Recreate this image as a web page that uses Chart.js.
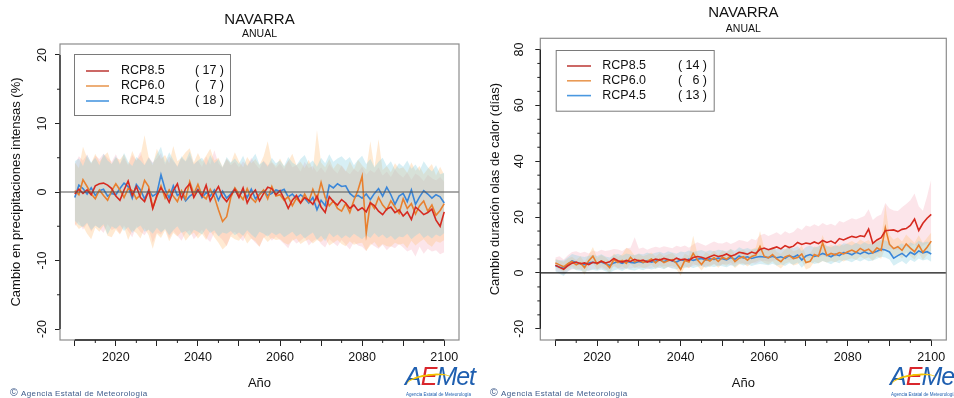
<!DOCTYPE html>
<html>
<head>
<meta charset="utf-8">
<script src="https://cdn.jsdelivr.net/npm/chart.js@4.4.1/dist/chart.umd.min.js"></script>
<style>
html,body{margin:0;padding:0;background:#fff;}
body{width:954px;height:398px;position:relative;overflow:hidden;font-family:'Liberation Sans',Arial,Helvetica,sans-serif;}
.wrap{position:absolute;top:0;width:477px;height:398px;}
canvas{display:block;}
.foot{position:absolute;top:386px;font-size:8px;color:#3d5a8a;letter-spacing:0.35px;white-space:nowrap;line-height:12px;}
.foot .c{font-size:10.5px;margin-right:3px;}
.logo{position:absolute;top:362px;width:80px;height:36px;overflow:visible;white-space:nowrap;}
.logo .w{position:absolute;left:0;top:0;font-size:25px;font-style:italic;letter-spacing:-1px;line-height:28px;}
.logo .b{color:#1f5fb0;}
.logo .r{color:#d9262c;}
.logo .arc{position:absolute;left:2px;top:12px;width:44px;height:12px;border-top:2.5px solid #f3c300;border-radius:50%;transform:rotate(-8deg);}
.logo .t{position:absolute;left:1px;top:30px;font-size:4.5px;color:#1f5fb0;}
</style>
</head>
<body>
<div class="wrap" style="left:0"><canvas id="c1" width="477" height="398"></canvas></div>
<div class="wrap" style="left:477px"><canvas id="c2" width="477" height="398"></canvas></div>
<div class="foot" style="left:10px"><span class="c">©</span>Agencia Estatal de Meteorología</div>
<div class="foot" style="left:490px"><span class="c">©</span>Agencia Estatal de Meteorología</div>
<div class="logo" style="left:405px"><div class="w"><span class="b">A</span><span class="r">E</span><span class="b">Met</span></div><div class="arc"></div><div class="t">Agencia Estatal de Meteorología</div></div>
<div class="logo" style="left:890px"><div class="w"><span class="b">A</span><span class="r">E</span><span class="b">Met</span></div><div class="arc"></div><div class="t">Agencia Estatal de Meteorología</div></div>
<script>
// ---------------- DATA ----------------
const years = [2010,2011,2012,2013,2014,2015,2016,2017,2018,2019,
2020,2021,2022,2023,2024,2025,2026,2027,2028,2029,
2030,2031,2032,2033,2034,2035,2036,2037,2038,2039,
2040,2041,2042,2043,2044,2045,2046,2047,2048,2049,
2050,2051,2052,2053,2054,2055,2056,2057,2058,2059,
2060,2061,2062,2063,2064,2065,2066,2067,2068,2069,
2070,2071,2072,2073,2074,2075,2076,2077,2078,2079,
2080,2081,2082,2083,2084,2085,2086,2087,2088,2089,
2090,2091,2092,2093,2094,2095,2096,2097,2098,2099,
2100];

const seriesNames = ['RCP8.5','RCP6.0','RCP4.5'];
const precipCounts = [17, 7, 18];
const heatCounts = [14, 6, 13];

const xMajorTicks = [2010,2020,2030,2040,2050,2060,2070,2080,2090,2100];
const xMinorTicks = [2015,2025,2035,2045,2055,2065,2075,2085,2095];
const xTickLabels = [2020,2040,2060,2080,2100];
const precipYTicks = [-20,-10,0,10,20];
const precipYMinor = [-15,-5,5,15];
const heatYTicks = [-20,0,20,40,60,80];
const heatYMinor = [-15,-10,-5,5,10,15,25,30,35,45,50,55,65,70,75];

// Left chart: cambio en precipitaciones intensas (%)
const precipRcp85 = [
-0.3,0.4,-0.2,0.3,-0.4,0.9,1.2,1.3,1.0,0.5,
-0.6,-1.2,0.3,1.6,-0.5,0.8,-0.8,-1.4,0.2,-2.4,
-0.5,0.6,-0.3,-1.5,0.2,1.2,-1.0,0.5,1.2,-0.8,
0.3,-0.6,1.0,-1.3,-0.2,0.8,-0.7,-1.4,-0.5,0.4,
-0.8,0.6,-1.6,-0.4,0.3,-1.3,-0.2,0.7,0.5,-0.4,
0.2,-1.0,-2.4,-1.2,-0.5,-1.6,-0.8,-1.2,-1.8,-0.6,
-2.2,-3.0,-0.7,-1.4,-1.9,-1.1,-1.6,-2.4,-1.9,-2.7,
-2.3,-2.9,-1.6,-2.0,-2.8,-3.3,-2.5,-2.2,-3.0,-2.6,
-3.5,-2.9,-4.0,-2.2,-2.7,-3.3,-3.0,-2.5,-4.1,-5.0,
-2.9];
const precipRcp85Hi = [
4.0,5.2,4.6,5.5,4.1,5.3,4.8,5.6,5.0,4.4,
5.5,4.2,5.0,3.9,5.4,4.6,5.9,4.0,5.1,4.3,
4.9,5.7,4.0,5.2,4.5,3.8,5.0,4.4,5.3,4.1,
4.6,3.7,5.2,4.0,6.1,4.2,3.5,4.8,3.9,4.4,
3.6,4.5,3.8,5.0,4.1,3.4,4.6,3.9,4.3,3.5,
4.2,3.3,4.7,3.6,3.9,3.0,4.4,3.5,3.8,2.9,
3.6,2.8,4.1,3.3,2.7,3.9,3.1,2.6,3.4,2.9,
3.7,2.5,3.2,2.8,3.6,2.4,3.0,2.2,3.3,2.6,
2.1,2.9,1.8,2.7,2.3,1.6,2.5,2.0,1.7,2.2,
1.5];
const precipRcp85Lo = [
-5.0,-4.3,-5.5,-4.6,-5.8,-4.9,-5.3,-6.0,-4.7,-5.6,
-5.2,-6.1,-4.9,-5.7,-6.6,-5.0,-5.8,-6.3,-5.4,-7.4,
-5.9,-6.2,-5.3,-6.8,-5.7,-6.4,-7.1,-6.0,-5.6,-6.9,
-6.2,-5.5,-6.7,-7.3,-5.9,-6.4,-7.0,-7.9,-6.3,-5.8,
-6.6,-7.2,-6.0,-6.8,-7.4,-8.0,-6.7,-6.2,-7.1,-6.5,
-7.0,-7.6,-8.2,-6.9,-7.5,-7.1,-6.6,-7.8,-7.2,-6.8,
-7.6,-8.1,-6.9,-7.4,-7.9,-7.0,-7.7,-8.4,-7.3,-7.8,
-8.0,-8.6,-7.5,-7.9,-8.3,-7.7,-8.5,-7.9,-8.2,-7.6,
-8.1,-8.7,-8.4,-9.4,-8.0,-9.0,-8.3,-8.7,-8.5,-9.1,
-8.8];
const precipRcp60 = [
0.2,-0.4,1.8,0.8,-0.3,-1.0,0.3,-0.5,-1.2,0.2,
1.2,0.3,-0.8,0.5,0.2,-1.0,-0.4,1.7,0.8,-2.3,
-0.7,0.9,-0.9,0.3,-0.6,-1.4,0.2,-1.0,1.5,-0.3,
1.1,-0.5,-1.0,0.4,-0.7,-2.6,-4.3,-3.6,-0.8,0.6,
-0.3,-1.1,0.5,-0.9,-1.5,-0.4,0.3,-1.0,0.8,-0.6,
-0.4,-1.2,-0.7,-2.0,-0.9,-1.6,-0.3,-1.4,0.4,-1.1,
1.4,-0.8,-2.0,-1.3,-2.4,-2.8,-1.7,-3.0,-1.2,0.3,
2.3,-6.0,-1.5,-2.4,-0.8,-1.9,-2.6,-1.3,-2.2,-3.1,
-1.0,-2.4,-1.7,-3.2,-2.0,-1.3,-2.8,-1.9,-3.4,-2.7,
-1.7];
const precipRcp60Hi = [
4.3,3.5,6.6,5.0,4.2,5.6,4.4,5.2,5.8,4.1,
5.0,4.7,5.5,4.0,6.0,4.6,5.3,8.3,5.1,3.9,
6.3,4.8,5.4,4.2,6.7,4.5,5.0,5.8,6.4,4.3,
5.7,4.4,5.3,6.3,4.6,5.0,3.7,4.9,4.2,5.8,
4.5,3.6,5.1,4.2,4.8,3.9,5.2,7.4,4.4,3.8,
4.9,3.7,4.5,5.6,3.9,4.4,3.5,4.7,3.2,9.0,
4.3,3.6,4.8,3.4,4.2,3.8,3.0,4.5,3.3,4.7,
3.9,3.3,7.4,3.5,7.7,3.2,3.8,2.9,4.2,3.4,
3.6,2.8,4.3,3.1,3.8,2.6,3.4,4.1,2.4,3.7,
2.5];
const precipRcp60Lo = [
-4.6,-5.4,-5.0,-6.1,-6.9,-5.2,-5.8,-4.9,-6.4,-6.6,
-5.5,-6.2,-5.1,-7.0,-5.6,-6.0,-6.8,-5.3,-6.3,-8.3,
-6.1,-6.7,-5.6,-7.2,-6.0,-6.5,-5.8,-7.1,-6.4,-5.9,
-6.8,-6.1,-7.0,-5.7,-6.6,-7.4,-8.4,-7.8,-6.5,-6.9,
-7.1,-6.3,-7.5,-6.8,-7.2,-8.0,-6.6,-7.3,-6.7,-7.0,
-6.9,-7.4,-7.7,-7.1,-6.8,-7.6,-7.2,-6.9,-7.5,-7.0,
-7.3,-6.7,-7.8,-7.4,-7.0,-7.6,-7.9,-7.2,-7.7,-7.5,
-7.4,-8.6,-7.8,-7.3,-8.1,-7.6,-7.9,-8.0,-7.4,-7.7,
-7.5,-8.2,-7.1,-7.8,-7.3,-6.9,-7.6,-8.0,-7.2,-7.4,
-7.0];
const precipRcp45 = [
-0.8,1.0,0.5,-0.3,0.6,-0.5,0.2,0.4,-0.6,-0.2,
-0.4,0.5,1.3,0.8,-0.9,1.1,0.3,-1.0,0.2,-0.6,
-0.2,2.5,0.4,-0.9,0.9,-0.5,-0.1,-1.3,-0.6,-0.2,
0.4,-0.8,-0.1,-0.6,0.3,-1.2,0.1,-0.9,-0.3,0.5,
-0.6,0.2,-0.8,0.4,-1.0,-0.3,0.2,-0.5,-0.2,0.3,
0.1,0.4,-0.7,-0.3,-1.0,-0.4,-0.9,-1.6,-0.8,-2.6,
-1.2,-2.0,1.0,0.6,1.2,0.8,0.9,-0.2,-0.7,-0.5,
-0.9,-0.3,-1.1,-0.2,0.5,-0.6,0.7,-0.4,-1.8,-0.6,
-0.2,-1.4,0.3,-1.8,-0.7,0.2,-0.3,-0.9,-0.4,-0.7,
-1.6];
const precipRcp45Hi = [
4.5,4.9,3.8,5.4,4.3,5.0,3.9,5.6,4.6,4.1,
5.2,4.0,5.7,4.4,3.8,5.1,4.6,3.9,5.0,4.2,
5.5,6.6,4.3,5.8,4.7,3.7,5.2,4.5,5.9,4.0,
4.6,5.0,3.9,5.4,4.2,4.8,3.6,5.1,4.3,4.9,
4.1,5.3,3.8,4.7,5.6,4.0,4.5,3.7,5.0,4.2,
4.6,3.8,5.1,4.3,3.9,4.8,5.4,4.1,4.6,3.7,
5.0,4.2,5.5,4.4,4.9,5.2,4.6,5.1,3.9,4.7,
5.3,4.1,4.8,3.6,4.4,5.0,3.8,4.5,3.3,4.2,
3.7,4.6,3.4,4.0,3.1,4.5,3.6,3.0,3.9,2.6,
2.8];
const precipRcp45Lo = [
-4.2,-4.8,-5.1,-4.5,-5.6,-4.9,-5.3,-4.7,-6.2,-5.0,
-5.4,-4.8,-5.7,-5.1,-6.0,-5.3,-4.9,-5.8,-5.5,-6.1,
-5.2,-5.9,-5.4,-6.3,-5.6,-5.0,-6.0,-5.7,-6.4,-5.5,
-5.8,-6.2,-5.3,-6.0,-5.6,-6.5,-5.9,-6.1,-5.7,-6.3,
-5.9,-6.4,-5.6,-6.2,-6.7,-5.8,-6.1,-6.5,-5.9,-6.3,
-6.0,-6.6,-6.2,-5.8,-6.5,-6.1,-6.8,-6.3,-5.9,-7.0,
-6.4,-7.2,-6.0,-6.6,-6.2,-6.8,-6.3,-6.7,-6.1,-6.5,
-6.9,-6.3,-6.7,-6.0,-6.6,-6.2,-6.8,-6.4,-7.0,-6.5,
-6.6,-6.1,-6.9,-6.4,-6.0,-6.7,-6.3,-6.8,-6.2,-6.5,
-6.0];

// Right chart: cambio duración olas de calor (días)
const heatRcp85 = [
2.8,2.0,1.3,2.6,3.5,3.9,3.3,3.6,3.0,3.8,
3.5,4.2,3.6,4.0,5.2,4.4,3.9,4.5,4.1,4.9,
4.3,4.6,3.9,4.4,5.0,4.6,5.2,4.8,4.4,5.3,
4.7,5.0,4.5,5.5,5.9,5.6,5.1,5.8,6.4,5.9,
6.2,6.8,6.0,6.5,7.4,7.1,6.7,7.5,7.0,8.4,
8.9,8.3,8.8,9.3,8.6,9.8,9.1,9.6,10.9,10.2,
10.7,10.4,11.1,10.5,11.6,10.9,11.4,10.6,12.3,11.8,
12.5,13.1,12.7,13.3,13.0,15.7,10.6,11.8,12.6,15.1,
15.3,15.4,14.8,15.6,15.9,17.0,19.3,15.2,17.8,19.6,
21.0];
const heatRcp85Hi = [
5.5,6.0,4.8,6.3,7.5,7.8,7.1,7.6,7.0,8.0,
7.6,8.3,7.9,8.1,8.6,8.4,7.9,8.8,9.0,12.8,
8.7,9.1,8.3,8.9,9.4,9.0,9.6,9.2,8.8,9.7,
9.3,9.8,9.0,10.2,11.0,10.4,9.7,10.5,11.3,10.6,
10.5,11.2,10.4,11.0,11.8,11.5,11.1,12.2,11.7,13.5,
14.0,13.2,13.9,14.6,13.6,14.9,14.1,14.7,16.2,15.4,
17.0,16.5,17.4,16.7,17.9,17.1,17.6,16.9,18.6,18.1,
18.9,19.6,19.1,19.8,20.4,22.8,19.0,20.2,20.9,25.0,
23.1,22.4,22.2,23.5,24.7,26.0,28.4,23.9,22.3,27.5,
33.5];
const heatRcp85Lo = [
0.8,0.2,-0.6,0.5,1.2,1.6,1.0,1.3,0.7,1.5,
1.2,1.8,1.1,1.5,2.2,1.7,1.3,1.9,1.5,2.0,
1.7,2.0,1.4,1.8,2.3,1.9,2.5,2.1,1.7,2.4,
2.0,2.3,1.8,2.6,2.9,2.5,2.1,2.8,3.2,2.7,
3.0,3.4,2.8,3.2,3.7,3.4,3.0,3.6,3.3,4.1,
4.4,4.0,4.3,4.6,4.2,4.9,4.5,4.7,5.4,5.0,
5.5,5.3,5.8,5.4,6.1,5.7,6.0,5.6,6.5,6.3,
6.8,7.2,6.9,7.4,7.1,8.0,6.6,7.0,7.5,8.3,
8.6,8.4,8.2,8.9,9.2,9.6,10.3,8.8,9.7,10.5,
11.2];
const heatRcp60 = [
3.6,2.9,2.2,3.3,4.1,2.9,3.6,1.9,4.4,6.0,
3.2,4.3,3.5,1.9,4.8,3.7,4.5,3.4,5.6,4.0,
4.6,3.8,4.2,5.0,3.6,4.9,3.7,4.4,4.8,3.5,
1.3,4.5,3.9,7.0,4.7,3.0,5.0,4.3,5.5,4.1,
5.6,4.9,6.2,4.1,5.3,5.8,4.6,5.9,6.4,9.5,
6.0,5.4,6.6,5.0,4.0,5.7,6.3,5.1,5.5,6.8,
3.7,4.2,6.6,6.0,10.8,6.3,7.0,6.5,7.3,6.8,
7.6,8.2,7.4,8.8,7.9,8.5,7.2,9.0,8.1,16.2,
10.2,8.7,9.4,8.1,10.4,8.9,7.6,10.0,7.4,9.2,
11.4];
const heatRcp60Hi = [
5.0,4.4,4.0,5.2,5.8,4.6,6.0,3.8,6.5,9.3,
5.4,6.4,5.6,4.3,7.0,5.8,6.6,9.0,8.2,6.2,
6.8,6.0,6.5,7.3,5.9,7.1,6.0,6.7,7.1,5.8,
4.5,6.9,6.2,13.3,7.0,5.4,7.4,6.6,8.0,6.5,
8.1,7.3,8.7,6.6,7.8,8.4,7.1,8.5,9.1,15.0,
8.8,8.0,9.4,7.6,6.8,8.5,9.2,7.8,8.3,9.7,
6.4,7.0,9.6,9.0,13.6,9.3,10.0,9.5,10.4,9.8,
10.7,11.4,10.5,12.0,11.1,11.8,10.2,12.3,11.4,24.5,
13.6,11.9,12.8,11.3,13.8,12.2,10.8,13.5,10.7,12.6,
14.5];
const heatRcp60Lo = [
2.0,1.2,0.3,1.5,2.3,1.1,1.5,-0.6,2.4,3.6,
1.1,2.3,1.5,-0.2,2.8,1.6,2.4,1.3,3.2,1.8,
2.5,1.7,2.1,2.9,1.4,2.8,1.5,2.2,2.6,1.3,
-1.0,2.3,1.7,3.4,2.5,0.9,2.8,2.1,3.2,1.9,
3.2,2.6,3.7,1.8,3.0,3.4,2.3,3.5,4.0,4.6,
3.6,3.0,4.1,2.6,1.6,3.3,3.9,2.7,3.1,4.2,
1.2,1.9,4.0,3.4,4.3,3.7,4.3,3.8,4.6,4.1,
4.8,5.3,4.6,5.9,5.0,5.6,4.4,6.0,5.1,9.0,
7.3,5.8,6.5,5.2,7.4,6.0,4.8,7.1,4.6,6.4,
8.0];
const heatRcp45 = [
2.6,2.1,1.7,3.2,4.3,3.7,3.4,3.0,3.6,3.8,
3.5,3.9,3.3,2.7,3.6,4.0,3.4,4.2,3.8,3.6,
4.1,3.7,4.4,3.9,4.3,4.6,4.0,4.8,4.3,3.9,
4.7,4.4,5.0,4.5,4.9,5.2,4.6,5.1,4.8,5.3,
5.1,4.7,5.5,4.9,6.1,5.4,5.8,5.2,5.6,5.9,
5.7,5.5,6.0,5.4,5.8,5.2,6.2,5.6,6.4,4.6,
6.1,6.6,5.9,6.3,7.0,6.4,5.8,6.7,6.2,7.3,
7.1,6.5,7.4,6.8,7.6,6.9,7.2,7.8,8.5,8.2,
7.5,5.3,6.2,7.0,5.8,7.4,6.6,7.9,7.2,7.6,
6.8];
const heatRcp45Hi = [
4.8,4.6,4.5,5.6,6.8,6.3,6.0,5.7,6.2,6.5,
6.1,6.7,5.9,5.5,6.4,6.9,6.2,7.0,6.6,6.4,
7.0,6.6,7.3,6.8,7.2,7.6,7.0,7.8,7.3,6.9,
7.7,7.4,8.0,7.5,7.9,8.2,7.6,8.1,7.8,8.3,
8.1,7.7,8.6,7.9,9.2,8.5,8.9,8.3,8.7,9.0,
8.8,8.6,9.1,8.5,9.0,8.4,9.4,8.8,9.6,7.9,
9.3,9.8,9.1,9.6,10.3,9.7,9.1,10.0,9.5,10.6,
10.4,9.8,10.8,10.1,11.0,10.3,10.6,11.2,11.9,11.6,
11.0,9.0,9.8,10.6,9.4,11.0,10.2,11.5,10.8,11.3,
10.5];
const heatRcp45Lo = [
0.5,-0.3,-1.1,0.6,1.6,1.0,0.8,0.3,0.9,1.1,
0.8,1.2,0.6,0.0,0.9,1.3,0.7,1.5,1.1,0.9,
1.4,1.0,1.7,1.2,1.6,1.9,1.3,2.1,1.6,1.2,
2.0,1.7,2.3,1.8,2.2,2.5,1.9,2.4,2.1,2.6,
2.4,2.0,2.8,2.2,3.3,2.7,3.1,2.5,2.9,3.2,
3.0,2.8,3.3,2.7,3.1,2.5,3.5,2.9,3.7,1.9,
3.4,3.9,3.2,3.6,4.3,3.7,3.1,4.0,3.5,4.6,
4.4,3.8,4.7,4.1,4.9,4.2,4.5,5.1,5.8,5.5,
4.8,2.6,3.5,4.3,3.1,4.7,3.9,5.2,4.5,4.9,
4.0];

// ---------------- STYLE ----------------
const FONT = "'Liberation Sans', Arial, Helvetica, sans-serif";
Chart.defaults.font.family = FONT;
Chart.defaults.color = '#111';
const lineColors = ['#d62a20', '#e8802f', '#3a86d8'];
const legendColors = ['#c0433f', '#e99a55', '#4a98e0'];
const bandColors = ['rgba(245,160,180,0.28)', 'rgba(255,195,130,0.35)', 'rgba(140,210,225,0.35)'];

function pts(vals) { return years.map((yr, i) => ({x: yr, y: vals[i]})); }

const decorPlugin = {
  id: 'decor',
  afterDatasetsDraw(chart, args, o) {
    const {ctx, chartArea: a, scales: {y}} = chart;
    ctx.save();
    ctx.strokeStyle = o.zeroColor;
    ctx.lineWidth = 1.2;
    const y0 = y.getPixelForValue(0);
    ctx.beginPath(); ctx.moveTo(a.left, y0); ctx.lineTo(a.right, y0); ctx.stroke();
    ctx.restore();
  },
  afterDraw(chart, args, o) {
    const {ctx, chartArea: a, scales: {x, y}} = chart;
    ctx.save();
    ctx.strokeStyle = '#8c8c8c'; ctx.lineWidth = 1.2;
    ctx.strokeRect(a.left, a.top, a.right - a.left, a.bottom - a.top);
    ctx.strokeStyle = '#222'; ctx.lineWidth = 1.3;
    ctx.beginPath();
    ctx.moveTo(x.getPixelForValue(xMajorTicks[0]), a.bottom);
    ctx.lineTo(x.getPixelForValue(xMajorTicks[xMajorTicks.length - 1]), a.bottom);
    ctx.moveTo(a.left, y.getPixelForValue(o.yTicks[0]));
    ctx.lineTo(a.left, y.getPixelForValue(o.yTicks[o.yTicks.length - 1]));
    ctx.stroke();
    ctx.lineWidth = 1;
    ctx.beginPath();
    xMinorTicks.forEach(v => { const p = x.getPixelForValue(v); ctx.moveTo(p, a.bottom); ctx.lineTo(p, a.bottom + 3); });
    o.yMinor.forEach(v => { const p = y.getPixelForValue(v); ctx.moveTo(a.left, p); ctx.lineTo(a.left - 3, p); });
    ctx.stroke();
    const L = o.legend;
    const bx = a.left + L.dx, by = a.top + L.dy;
    ctx.fillStyle = '#fff';
    ctx.fillRect(bx, by, L.w, L.h);
    ctx.strokeStyle = '#7a7a7a'; ctx.lineWidth = 1;
    ctx.strokeRect(bx + 0.5, by + 0.5, L.w, L.h);
    ctx.font = '12.5px ' + FONT;
    ctx.textBaseline = 'middle';
    seriesNames.forEach((name, i) => {
      const ry = by + L.row0 + i * L.rowStep;
      ctx.strokeStyle = legendColors[i]; ctx.lineWidth = 1.6;
      ctx.beginPath(); ctx.moveTo(bx + L.lx0, ry); ctx.lineTo(bx + L.lx1, ry); ctx.stroke();
      ctx.fillStyle = '#111';
      ctx.textAlign = 'left';
      ctx.fillText(name, bx + L.tx, ry);
      ctx.fillText('(', bx + L.cx0, ry);
      ctx.textAlign = 'right';
      ctx.fillText(o.counts[i] + ' )', bx + L.cx1, ry);
    });
    ctx.restore();
  }
};

function makeChart(id, cfg) {
  const ds = [];
  cfg.means.forEach((m, i) => ds.push({data: pts(m), borderColor: lineColors[i], borderWidth: 1.6, pointRadius: 0, fill: false, tension: 0}));
  [2, 1, 0].forEach(i => {
    ds.push({data: pts(cfg.lows[i]), borderWidth: 0, borderColor: 'rgba(0,0,0,0)', pointRadius: 0, fill: false});
    ds.push({data: pts(cfg.highs[i]), borderWidth: 0, borderColor: 'rgba(0,0,0,0)', pointRadius: 0, fill: {target: '-1'}, backgroundColor: bandColors[i]});
  });
  return new Chart(document.getElementById(id), {
    type: 'line',
    data: {datasets: ds},
    options: {
      responsive: false,
      animation: false,
      events: [],
      layout: {padding: {left: 0, right: cfg.padRight, top: 0, bottom: 0}},
      plugins: {
        legend: {display: false},
        tooltip: {enabled: false},
        title: {display: true, text: 'NAVARRA', fullSize: false, color: '#111',
                font: {size: 15, weight: 'normal', lineHeight: 1.1}, padding: {top: cfg.titleTop, bottom: 0}},
        subtitle: {display: true, text: 'ANUAL', fullSize: false, color: '#111',
                font: {size: 10.5, weight: 'normal', lineHeight: 1.2}, padding: {top: cfg.subTop, bottom: cfg.subBottom}},
        decor: {zeroColor: cfg.zeroColor, yTicks: cfg.yTicks, yMinor: cfg.yMinor, counts: cfg.counts, legend: cfg.legend}
      },
      scales: {
        x: {
          type: 'linear', min: 2006.4, max: 2103.6,
          afterBuildTicks: s => { s.ticks = xMajorTicks.map(v => ({value: v})); },
          afterFit: s => { s.height = 58; },
          border: {display: false},
          grid: {drawOnChartArea: false, drawTicks: true, tickLength: 6, tickColor: '#222', tickWidth: 1},
          ticks: {autoSkip: false, maxRotation: 0, padding: 4.5, color: '#111', font: {size: 12.5},
                  callback: v => xTickLabels.includes(v) ? String(v) : ''},
          title: {display: true, text: 'Año', color: '#111', font: {size: 13}, padding: {top: 0, bottom: 7.2}}
        },
        y: {
          type: 'linear', min: cfg.yMin, max: cfg.yMax,
          afterBuildTicks: s => { s.ticks = cfg.yTicks.map(v => ({value: v})); },
          afterFit: s => { s.width = cfg.yWidth; },
          border: {display: false},
          grid: {drawOnChartArea: false, drawTicks: true, tickLength: 5, tickColor: '#222', tickWidth: 1},
          ticks: {minRotation: 90, maxRotation: 90, crossAlign: 'center', padding: cfg.yPad, color: '#111', font: {size: 12.5},
                  callback: v => String(v)},
          title: {display: true, text: cfg.yTitle, color: '#111', font: {size: 13}, padding: {top: cfg.yTitlePad, bottom: 0}}
        }
      }
    },
    plugins: [decorPlugin]
  });
}

makeChart('c1', {
  means: [precipRcp85, precipRcp60, precipRcp45],
  lows: [precipRcp85Lo, precipRcp60Lo, precipRcp45Lo],
  highs: [precipRcp85Hi, precipRcp60Hi, precipRcp45Hi],
  counts: precipCounts,
  yMin: -21.6, yMax: 21.6, yTicks: precipYTicks, yMinor: precipYMinor,
  yWidth: 60, yPad: 3.8, yTitlePad: 8.5,
  yTitle: 'Cambio en precipitaciones intensas (%)',
  padRight: 18, titleTop: 12, subTop: -0.5, subBottom: 3.4,
  zeroColor: '#555',
  legend: {dx: 14, dy: 10, w: 156, h: 61, row0: 17, rowStep: 15, lx0: 12, lx1: 35, tx: 47, cx0: 121, cx1: 150}
});

makeChart('c2', {
  means: [heatRcp85, heatRcp60, heatRcp45],
  lows: [heatRcp85Lo, heatRcp60Lo, heatRcp45Lo],
  highs: [heatRcp85Hi, heatRcp60Hi, heatRcp45Hi],
  counts: heatCounts,
  yMin: -24, yMax: 84, yTicks: heatYTicks, yMinor: heatYMinor,
  yWidth: 63.3, yPad: 7.2, yTitlePad: 10.5,
  yTitle: 'Cambio duración olas de calor (días)',
  padRight: 7.7, titleTop: 4.45, subTop: 1.5, subBottom: 3.25,
  zeroColor: '#111',
  legend: {dx: 15.4, dy: 11.7, w: 158, h: 60.7, row0: 16, rowStep: 14.8, lx0: 11.3, lx1: 35.3, tx: 46.6, cx0: 122.3, cx1: 151.3}
});
</script>
</body>
</html>
